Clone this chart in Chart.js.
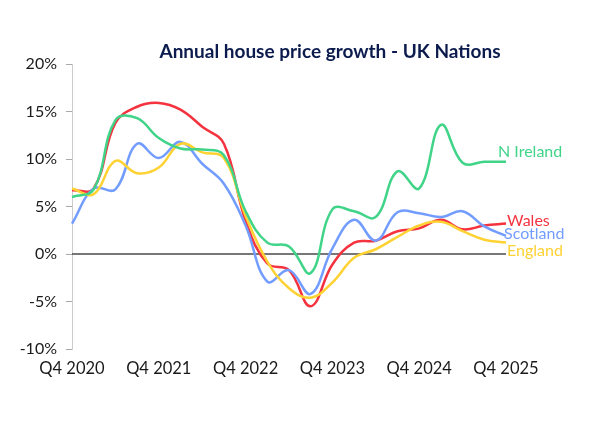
<!DOCTYPE html>
<html lang="en">
  <head>
    <meta charset="UTF-8" />
    <script src="https://cdn.jsdelivr.net/npm/chart.js"></script>
    <title>Annual house price growth - UK Nations</title>
    <style>
      html, body { margin: 0; padding: 0; background: #fff; overflow: hidden; }
      #wrap { position: relative; width: 592px; height: 424px; }
      #title {
        position: absolute; top: 40px; left: 68px; width: 524px;
        text-align: center; font: bold 19px Lato, sans-serif; line-height: 22px;
        color: #0b1b4d; margin: 0;
      }
      #box { position: absolute; left: 0; top: 0; width: 592px; height: 424px; }
    </style>
  </head>
  <body>
    <div id="wrap">
      <div id="box"><canvas id="growthChart"></canvas></div>
      <h2 id="title">Annual house price growth - UK Nations</h2>
    </div>

    <script>
      const quarters = ["Q4 2020", "Q1 2021", "Q2 2021", "Q3 2021", "Q4 2021", "Q1 2022", "Q2 2022", "Q3 2022",
        "Q4 2022", "Q1 2023", "Q2 2023", "Q3 2023", "Q4 2023", "Q1 2024", "Q2 2024", "Q3 2024",
        "Q4 2024", "Q1 2025", "Q2 2025", "Q3 2025", "Q4 2025"];

      const nIreland = [6.0, 6.8, 14.1, 14.3, 12.2, 11.1, 11.0, 10.4, 4.5, 1.2, 0.8, -2.0, 4.7, 4.5, 3.9, 8.7, 6.9, 13.6, 9.6, 9.7, 9.7];
      const wales = [6.7, 6.9, 13.8, 15.5, 15.9, 15.2, 13.4, 11.6, 3.5, -1.0, -1.7, -5.5, -1.1, 1.2, 1.4, 2.4, 2.7, 3.6, 2.6, 3.0, 3.2];
      const scotland = [3.2, 6.9, 6.8, 11.6, 10.1, 11.8, 9.5, 7.4, 3.0, -2.9, -1.7, -4.2, 0.6, 3.6, 1.4, 4.4, 4.3, 3.9, 4.5, 2.9, 1.9];
      const england = [6.9, 6.3, 9.8, 8.5, 9.1, 11.6, 10.7, 10.1, 4.0, -0.8, -3.6, -4.6, -3.0, -0.4, 0.5, 1.8, 3.0, 3.4, 2.4, 1.5, 1.2];

      const yTicks = [-10, -5, 0, 5, 10, 15, 20];

      const series = [
        { name: "N Ireland", data: nIreland, color: "#3fd488", dx: -9, dy: -10 },
        { name: "England", data: england, color: "#ffd234", dx: 0, dy: 8 },
        { name: "Scotland", data: scotland, color: "#729dff", dx: -3, dy: -2 },
        { name: "Wales", data: wales, color: "#f4333f", dx: 0, dy: -3 },
      ];

      const FONT = "Lato, sans-serif";

      // zero line under the series, names at the line ends
      const extras = {
        id: "extras",
        beforeDatasetsDraw(chart) {
          const { ctx, chartArea, scales } = chart;
          const y0 = scales.y.getPixelForValue(0);
          ctx.save();
          ctx.strokeStyle = "#4a4a4a";
          ctx.lineWidth = 1.6;
          ctx.beginPath();
          ctx.moveTo(chartArea.left, y0);
          ctx.lineTo(chartArea.right, y0);
          ctx.stroke();
          ctx.restore();
        },
        afterDatasetsDraw(chart) {
          const { ctx, scales } = chart;
          ctx.save();
          ctx.font = "16px " + FONT;
          ctx.textBaseline = "middle";
          ctx.textAlign = "left";
          series.forEach((s) => {
            const last = s.data.length - 1;
            const x = scales.x.getPixelForValue(last);
            const y = scales.y.getPixelForValue(s.data[last]);
            ctx.fillStyle = s.color;
            ctx.fillText(s.name, x + 1 + s.dx, y + s.dy);
          });
          ctx.restore();
        },
      };

      new Chart(document.getElementById("growthChart"), {
        type: "line",
        data: {
          labels: quarters,
          datasets: series.map((s) => ({
            label: s.name,
            data: s.data,
            borderColor: s.color,
            backgroundColor: s.color,
            borderWidth: 2.5,
            pointRadius: 0,
            tension: 0.4,
            fill: false,
          })),
        },
        options: {
          responsive: true,
          maintainAspectRatio: false,
          animation: false,
          layout: { padding: { top: 64, right: 86, bottom: 35, left: 0 } },
          plugins: {
            legend: { display: false },
            tooltip: { enabled: false },
            title: { display: false },
          },
          scales: {
            x: {
              offset: false,
              grid: { display: false, drawTicks: false },
              border: { display: false },
              afterFit: (s) => { s.height = 40; },
              ticks: {
                autoSkip: false,
                maxRotation: 0,
                padding: 10,
                color: "#1a1a1a",
                font: { family: FONT, size: 16.5 },
                callback: function (value) {
                  const lab = this.getLabelForValue(value);
                  return lab.startsWith("Q4") ? lab : "";
                },
              },
            },
            y: {
              min: -10,
              max: 20,
              afterFit: (s) => { s.width = 72; },
              afterBuildTicks: (s) => { s.ticks = yTicks.map((v) => ({ value: v })); },
              grid: { drawOnChartArea: false, drawTicks: true, tickLength: 6, color: "#aaaaaa" },
              border: { display: true, color: "#cccccc", width: 1 },
              ticks: {
                padding: 9,
                color: "#1a1a1a",
                font: { family: FONT, size: 16 },
                callback: (v) => v + "%",
              },
            },
          },
        },
        plugins: [extras],
      });
    </script>
  </body>
</html>
